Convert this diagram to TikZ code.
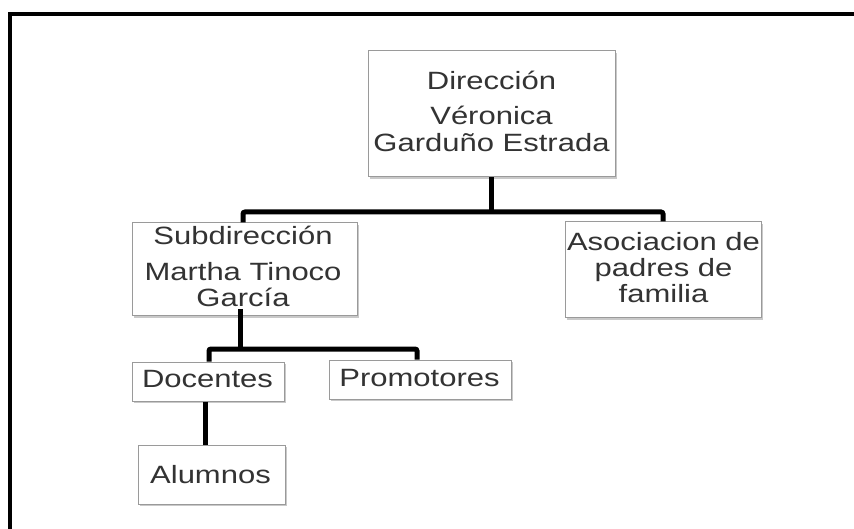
\documentclass[tikz,border=0pt]{standalone}
\usepackage{fontspec}
\setmainfont[FakeStretch=1.24]{Liberation Sans}
\usetikzlibrary{shadows}
\definecolor{txtc}{HTML}{333333}
\definecolor{boxc}{HTML}{9A9A9A}
\tikzset{
  orgbox/.style={draw=boxc, line width=1pt, fill=white, inner sep=0pt,
    drop shadow={shadow xshift=1.5pt, shadow yshift=-2pt, fill=black!35, opacity=0.6}},
  ln/.style={text=txtc, inner sep=0pt, anchor=base, font=\fontsize{25}{27}\selectfont},
  conn/.style={draw=black, line width=5pt, rounded corners=2pt},
  frame/.style={draw=black, line width=4pt}
}
\begin{document}
\begin{tikzpicture}[x=1pt, y=-1pt]
\useasboundingbox (0,0) rectangle (854,529);
\fill[white] (0,0) rectangle (854,529);
\draw[frame] (10,529) -- (10,14) -- (854,14);

% boxes
\node[orgbox, minimum width=247pt, minimum height=126pt] (dir) at (491.5,114) {};
\node[orgbox, minimum width=225pt, minimum height=93pt] (sub) at (244.5,269.5) {};
\node[orgbox, minimum width=196pt, minimum height=96pt] (aso) at (663,270) {};
\node[orgbox, minimum width=152pt, minimum height=39pt] (doc) at (208,381.5) {};
\node[orgbox, minimum width=182pt, minimum height=39pt] (pro) at (420,379.5) {};
\node[orgbox, minimum width=147pt, minimum height=59pt] (alu) at (211.5,474.5) {};

% texts
\node[ln] (dir1) at (491.5,90) {Dirección};
\node[ln] (dir2) at (491.5,125) {Véronica};
\node[ln] (dir3) at (491.5,152) {Garduño Estrada};
\node[ln] (sub1) at (243,245) {Subdirección};
\node[ln] (sub2) at (243,281) {Martha Tinoco};
\node[ln] (sub3) at (243,306) {García};
\node[ln] (aso1) at (663.5,251) {Asociacion de};
\node[ln] (aso2) at (663.5,276.5) {padres de};
\node[ln] (aso3) at (663.5,302) {familia};
\node[ln] (doc1) at (207.5,387) {Docentes};
\node[ln] (pro1) at (419.5,386) {Promotores};
\node[ln] (alu1) at (210.5,483) {Alumnos};

% connectors
\coordinate (j1l) at (243,212);
\coordinate (j1r) at (663,212);
\draw[conn] (dir.south) -- (dir.south |- j1l);
\draw[conn] (sub.north -| j1l) -- (j1l) -- (j1r) -- (aso.north);

\coordinate (s2) at (240,309);
\coordinate (j2l) at (209,349);
\coordinate (j2r) at (417,349);
\draw[conn] (s2) -- (s2 |- j2l);
\draw[conn] (doc.north -| j2l) -- (j2l) -- (j2r) -- (pro.north -| j2r);

\coordinate (k) at (205,0);
\draw[conn] (doc.south -| k) -- (alu.north -| k);
\end{tikzpicture}
\end{document}
